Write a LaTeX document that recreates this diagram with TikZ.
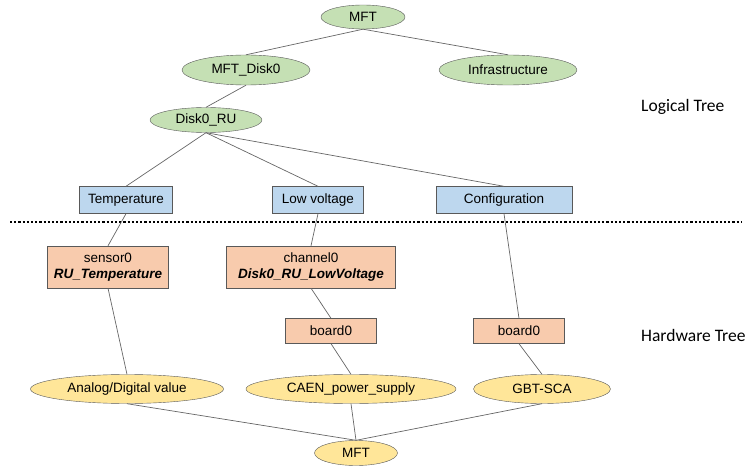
\documentclass[tikz,border=0pt]{standalone}
\usepackage{fontspec}
\setmainfont{Liberation Sans}
\newfontfamily\labelfont{Carlito}
\usetikzlibrary{shapes.geometric}
\definecolor{logicgreen}{HTML}{C5E0B4}
\definecolor{parambl}{HTML}{BDD7EE}
\definecolor{hworange}{HTML}{F8CBAD}
\definecolor{devyellow}{HTML}{FFE699}
\begin{document}
\begin{tikzpicture}[x=1pt, y=-1pt,
  every node/.style={inner sep=0pt, font=\fontsize{13.5}{15.5}\selectfont},
  logic/.style={ellipse, draw=black!65, fill=logicgreen, minimum height=30pt},
  param/.style={rectangle, draw=black!65, fill=parambl, minimum height=27pt},
  hw/.style={rectangle, draw=black!65, fill=hworange, align=center},
  dev/.style={ellipse, draw=black!65, fill=devyellow, minimum height=29pt},
  link/.style={draw=black!60, line width=0.7pt},
  tree/.style={anchor=west, font=\labelfont\fontsize{17.5}{20}\selectfont}]
  \useasboundingbox (0,0) rectangle (745,468);

  \node (mft) [logic, minimum width=84pt, minimum height=24pt] at (363,17) {MFT};
  \node (disk) [logic, minimum width=128pt] at (246,70) {MFT\_Disk0};
  \node (infra) [logic, minimum width=138pt] at (508,70) {Infrastructure};
  \node (ru) [logic, minimum width=112pt, minimum height=25pt] at (206,120) {Disk0\_RU};

  \node (temp) [param, minimum width=93pt] at (126,200) {Temperature};
  \node (lv) [param, minimum width=91pt] at (318,200) {Low voltage};
  \node (conf) [param, minimum width=136pt] at (504,200) {Configuration};

  \node (sensor) [hw, minimum width=121pt, minimum height=42pt] at (108,267) {sensor0\\[1pt]\textbf{\textit{RU\_Temperature}}};
  \node (chan) [hw, minimum width=169pt, minimum height=42pt] at (311,267) {channel0\\[1pt]\textbf{\textit{Disk0\_RU\_LowVoltage}}};
  \node (boardA) [hw, minimum width=91pt, minimum height=25pt] at (331,331) {board0};
  \node (boardB) [hw, minimum width=91pt, minimum height=25pt] at (519,331) {board0};

  \node (adc) [dev, minimum width=193pt] at (127,389) {Analog/Digital value};
  \node (caen) [dev, minimum width=210pt] at (351,389) {CAEN\_power\_supply};
  \node (gbt) [dev, minimum width=137pt] at (542,389) {GBT-SCA};
  \node (root) [dev, minimum width=83pt, minimum height=25pt] at (356,453) {MFT};

  \node (logical) [tree] at (641,107) {Logical Tree};
  \node (hardware) [tree] at (641,335) {Hardware Tree};

  \draw [dotted, line width=2.2pt] (10,222) -- (742,222);

  \draw [link] (mft.south) -- (disk.north);
  \draw [link] (mft.south) -- (infra.north);
  \draw [link] (disk.south) -- (ru.north);
  \draw [link] (ru.south) -- (temp.north);
  \draw [link] (ru.south) -- (lv.north);
  \draw [link] (ru.south) -- (conf.north);
  \draw [link] (temp.south) -- (sensor.north);
  \draw [link] (lv.south) -- (chan.north);
  \draw [link] (conf.south) -- (boardB.north);
  \draw [link] (sensor.south) -- (adc.north);
  \draw [link] (chan.south) -- (boardA.north);
  \draw [link] (boardA.south) -- (caen.north);
  \draw [link] (boardB.south) -- (gbt.north);
  \draw [link] (adc.south) -- (root.north);
  \draw [link] (caen.south) -- (root.north);
  \draw [link] (gbt.south) -- (root.north);
\end{tikzpicture}
\end{document}
